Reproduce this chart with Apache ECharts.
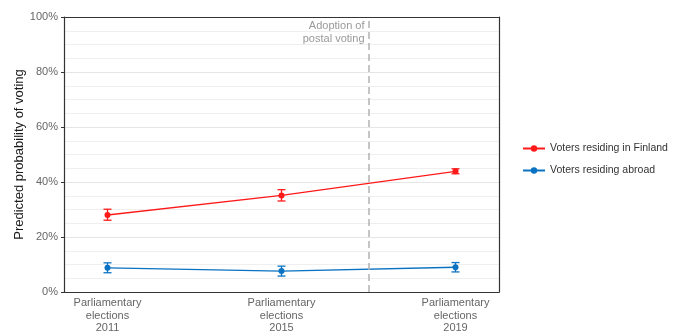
<!DOCTYPE html>
<html><head><meta charset="utf-8">
<script src="https://cdn.jsdelivr.net/npm/echarts@6/dist/echarts.min.js"></script>
<style>html,body{margin:0;padding:0;background:#fff}#c{width:674px;height:331px}</style>
</head><body><div id="c"></div>
<script>
const years = [2011, 2015, 2019];
const yearLabels = {2011: 'Parliamentary\nelections\n2011', 2015: 'Parliamentary\nelections\n2015', 2019: 'Parliamentary\nelections\n2019'};
const finland = [28.0, 35.1, 43.9];
const finlandLow = [26.1, 33.1, 43.0];
const finlandHigh = [30.1, 37.2, 44.8];
const abroad = [8.8, 7.6, 9.0];
const abroadLow = [7.0, 5.8, 7.3];
const abroadHigh = [10.6, 9.4, 10.7];
const reformYear = 2017;
const FONT = 'Liberation Sans, Arial, sans-serif';
const RED = '#ff1a1a', BLUE = '#0a72c2';

function errSeries(name, lo, hi, color) {
  return {
    type: 'custom', name: name, silent: true, z: 3,
    data: years.map((y, i) => [y, lo[i], hi[i]]),
    renderItem: function (params, api) {
      const p1 = api.coord([api.value(0), api.value(1)]);
      const p2 = api.coord([api.value(0), api.value(2)]);
      const w = 4;
      const st = {stroke: color, lineWidth: 1.3};
      return {type: 'group', children: [
        {type: 'line', shape: {x1: p1[0], y1: p1[1], x2: p2[0], y2: p2[1]}, style: st},
        {type: 'line', shape: {x1: p1[0]-w, y1: p1[1], x2: p1[0]+w, y2: p1[1]}, style: st},
        {type: 'line', shape: {x1: p2[0]-w, y1: p2[1], x2: p2[0]+w, y2: p2[1]}, style: st}
      ]};
    }
  };
}

const frameAxis = {show: true, onZero: false, lineStyle: {color: '#333', width: 1.2}};
const chart = echarts.init(document.getElementById('c'));
chart.setOption({
  animation: false,
  textStyle: {fontFamily: FONT},
  grid: {left: 64, right: 175, top: 17, bottom: 39, show: false, containLabel: false, outerBoundsMode: 'none'},
  legend: {
    orient: 'vertical', left: 517, top: 138, itemGap: 11, itemWidth: 22, itemHeight: 8,
    textStyle: {fontSize: 10.5, color: '#333', fontFamily: FONT},
    data: ['Voters residing in Finland', 'Voters residing abroad']
  },
  xAxis: [{
    type: 'value', min: 2010, max: 2020, interval: 1,
    splitLine: {show: false}, axisTick: {show: false},
    axisLine: frameAxis,
    axisLabel: {
      color: '#666', fontSize: 11, lineHeight: 12.5, margin: 5, fontFamily: FONT,
      formatter: v => yearLabels[v] || ''
    }
  }, {
    type: 'value', position: 'top', min: 2010, max: 2020,
    axisLine: frameAxis, axisTick: {show: false}, axisLabel: {show: false}, splitLine: {show: false}
  }],
  yAxis: [{
    type: 'value', min: 0, max: 100, interval: 20,
    name: 'Predicted probability of voting', nameLocation: 'middle', nameGap: 38, nameMoveOverlap: false,
    nameTextStyle: {fontSize: 13, color: '#1a1a1a', fontFamily: FONT},
    axisLine: frameAxis,
    axisTick: {show: true, length: 3, lineStyle: {color: '#333'}},
    axisLabel: {color: '#666', fontSize: 11, margin: 6, formatter: '{value}%', fontFamily: FONT},
    splitLine: {show: true, lineStyle: {color: '#e6e6e6', width: 1}},
    minorTick: {show: false, splitNumber: 4},
    minorSplitLine: {show: true, lineStyle: {color: '#efefef', width: 1}}
  }, {
    type: 'value', position: 'right', min: 0, max: 100,
    axisLine: frameAxis, axisTick: {show: false}, axisLabel: {show: false}, splitLine: {show: false}
  }],
  series: [
    {
      name: 'Voters residing in Finland', type: 'line', z: 4,
      data: years.map((y, i) => [y, finland[i]]),
      symbol: 'circle', symbolSize: 6, showSymbol: true,
      itemStyle: {color: RED}, lineStyle: {color: RED, width: 1.3}
    },
    {
      name: 'Voters residing abroad', type: 'line', z: 4,
      data: years.map((y, i) => [y, abroad[i]]),
      symbol: 'circle', symbolSize: 6, showSymbol: true,
      itemStyle: {color: BLUE}, lineStyle: {color: BLUE, width: 1.3},
      markLine: {
        silent: true, symbol: 'none', label: {show: false},
        lineStyle: {color: '#b3b3b3', type: [7, 4], width: 1.5},
        data: [{xAxis: reformYear}]
      }
    },
    errSeries('Voters residing in Finland', finlandLow, finlandHigh, RED),
    errSeries('Voters residing abroad', abroadLow, abroadHigh, BLUE),
    {
      type: 'custom', silent: true, z: 5,
      data: [[reformYear, 100]],
      renderItem: function (params, api) {
        const p = api.coord([api.value(0), api.value(1)]);
        return {type: 'text', x: p[0] - 4, y: p[1] + 3, style: {
          text: 'Adoption of\npostal voting', fill: '#999', fontSize: 11, lineHeight: 12.5,
          align: 'right', verticalAlign: 'top', fontFamily: FONT
        }};
      }
    }
  ]
});
</script></body></html>
